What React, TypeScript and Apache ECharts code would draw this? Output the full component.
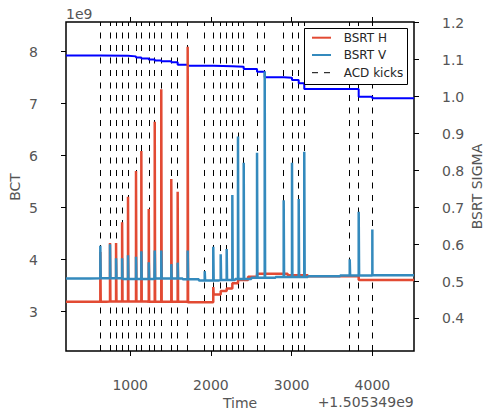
import React, { useEffect, useRef } from 'react';
import * as echarts from 'echarts';

// ---- data ----
const xTicks = [1000, 2000, 3000, 4000];
const bctTicks = [3, 4, 5, 6, 7, 8];
const sigmaTicks = [0.4, 0.5, 0.6, 0.7, 0.8, 0.9, 1.0, 1.1, 1.2];

// ACD kick times (s, offset from 1.505349e9)
const kickTimes = [630, 750, 825, 900, 973, 1072, 1138, 1230, 1304, 1385, 1509, 1588, 1712,
  1923, 2029, 2121, 2195, 2265, 2335, 2406, 2571, 2666, 2901, 3004, 3087, 3156, 3719, 3830, 3999];

// BSRT H peak at each kick (null = no visible spike)
const hPeaks = [0.58, 0.604, 0.604, 0.66, 0.729, 0.799, 0.853, 0.696, 0.932, 1.02, 0.777, 0.743, 1.135,
  null, 0.485, null, null, null, null, null, null, null, null, null, null, null, null, null, null];

// BSRT V peak at each kick
const vPeaks = [0.597, 0.601, 0.563, 0.563, 0.571, 0.567, 0.582, 0.552, 0.584, 0.584, 0.547, 0.551, 0.584,
  0.528, 0.594, 0.574, 0.588, 0.734, 0.892, 0.821, 0.848, 1.068, 0.72, 0.821, 0.723, 0.851, 0.56, 0.689, 0.641];

// baselines [time, sigma]
const hBaseline = [
  [205, 0.445], [700, 0.446], [1200, 0.445], [1700, 0.444], [2029, 0.465], [2121, 0.474], [2195, 0.481],
  [2265, 0.495], [2335, 0.504], [2460, 0.513], [2571, 0.521], [2950, 0.517], [3200, 0.514], [3830, 0.504],
  [4515, 0.503],
];
const vBaseline = [
  [205, 0.508], [500, 0.509], [900, 0.507], [1300, 0.508], [1650, 0.506], [1850, 0.503], [2100, 0.504],
  [2300, 0.507], [2500, 0.51], [2800, 0.512], [3200, 0.514], [3600, 0.516], [4000, 0.517], [4515, 0.517],
];

// BCT (charges, units of 1e9) [time, value]
const bctTimes = [205, 630, 973, 1072, 1138, 1230, 1304, 1385, 1509, 1588, 1712, 2029, 2265, 2406, 2571,
  2666, 2901, 3004, 3087, 3156, 3830, 3999, 4515];
const bctValues = [7.925, 7.922, 7.91, 7.89, 7.87, 7.85, 7.83, 7.815, 7.795, 7.75, 7.73, 7.72, 7.71, 7.667,
  7.615, 7.508, 7.5, 7.456, 7.392, 7.283, 7.135, 7.104, 7.104];

const SPIKE_W = 5;
const FONT = 'DejaVu Sans';
const RED = '#E24A33';
const BLUE = '#348ABD';

function baseAt(base: number[][], t: number): number {
  let v = base[0][1];
  for (const p of base) {
    if (p[0] <= t) v = p[1];
  }
  return v;
}

function buildSeries(base: number[][], peaks: (number | null)[]): number[][] {
  const pts: number[][] = base.map((p) => [p[0], p[1]]);
  kickTimes.forEach((t, i) => {
    const pk = peaks[i];
    if (pk == null) return;
    pts.push([t, pk]);
    pts.push([t + SPIKE_W, baseAt(base, t + SPIKE_W)]);
  });
  pts.sort((a, b) => a[0] - b[0]);
  return pts;
}

export default function App() {
  const ref = useRef<HTMLDivElement>(null);
  useEffect(() => {
    document.body.style.margin = '0';
    const chart = echarts.init(ref.current!, null, { renderer: 'svg' });
    const hData = buildSeries(hBaseline, hPeaks);
    const vData = buildSeries(vBaseline, vPeaks);
    const bctData = bctTimes.map((t, i) => [t, bctValues[i]]);
    const tickStyle = { color: '#000', width: 1 };
    const labelStyle = { color: '#555', fontSize: 14, fontFamily: FONT };
    const LZ = 100;

    chart.setOption({
      animation: false,
      textStyle: { fontFamily: FONT },
      grid: { left: 66, right: 70, top: 22, bottom: 60, show: true, borderColor: '#000', borderWidth: 1.5, backgroundColor: 'transparent' },
      xAxis: [
        {
          type: 'value', min: 205, max: 4515, position: 'bottom',
          axisLine: { show: false }, splitLine: { show: false },
          axisTick: { show: true, length: 5, customValues: xTicks, lineStyle: tickStyle },
          axisLabel: { ...labelStyle, margin: 27, customValues: xTicks, formatter: (v: number) => String(v) },
        },
        {
          type: 'value', min: 205, max: 4515, position: 'top',
          axisLine: { show: false }, splitLine: { show: false },
          axisTick: { show: true, length: 5, customValues: xTicks, lineStyle: tickStyle },
          axisLabel: { show: false },
        },
      ],
      yAxis: [
        {
          type: 'value', min: 2.245, max: 8.571, position: 'left',
          axisLine: { show: false }, splitLine: { show: false },
          axisTick: { show: true, length: 5, customValues: bctTicks, lineStyle: tickStyle },
          axisLabel: { ...labelStyle, margin: 28, customValues: bctTicks, formatter: (v: number) => String(v) },
        },
        {
          type: 'value', min: 0.312, max: 1.202, position: 'right',
          axisLine: { show: false }, splitLine: { show: false },
          axisTick: { show: true, length: 5, customValues: sigmaTicks, lineStyle: tickStyle },
          axisLabel: { ...labelStyle, margin: 28, customValues: sigmaTicks, formatter: (v: number) => v.toFixed(1) },
        },
      ],
      series: [
        {
          name: 'ACD kicks', type: 'line', xAxisIndex: 0, yAxisIndex: 0, data: [], z: 1,
          markLine: {
            silent: true, z: 1, symbol: ['none', 'none'], label: { show: false },
            lineStyle: { color: '#000', width: 1, type: [6, 6.5] },
            data: kickTimes.map((t) => ({ xAxis: t })),
          },
        },
        {
          name: 'BCT', type: 'line', xAxisIndex: 0, yAxisIndex: 0, data: bctData, step: 'end',
          showSymbol: false, symbol: 'none', z: 2,
          lineStyle: { color: '#0000FF', width: 2 },
        },
        {
          name: 'BSRT H', type: 'line', xAxisIndex: 0, yAxisIndex: 1, data: hData, step: 'end',
          showSymbol: false, symbol: 'none', z: 3,
          lineStyle: { color: RED, width: 2.5 },
        },
        {
          name: 'BSRT V', type: 'line', xAxisIndex: 0, yAxisIndex: 1, data: vData, step: 'end',
          showSymbol: false, symbol: 'none', z: 4,
          lineStyle: { color: BLUE, width: 2.5 },
        },
      ],
      graphic: [
        { type: 'text', x: 66, y: 14, style: { text: '1e9', fontSize: 14, fill: '#555', fontFamily: FONT, verticalAlign: 'middle' } },
        { type: 'text', x: 413.7, y: 402, style: { text: '+1.505349e9', fontSize: 14, fill: '#555', fontFamily: FONT, align: 'right', verticalAlign: 'middle' } },
        { type: 'text', x: 240, y: 403, style: { text: 'Time', fontSize: 14, fill: '#555', fontFamily: FONT, align: 'center', verticalAlign: 'middle' } },
        { type: 'text', x: 14.5, y: 187, rotation: Math.PI / 2, style: { text: 'BCT', fontSize: 14, fill: '#555', fontFamily: FONT, align: 'center', verticalAlign: 'middle' } },
        { type: 'text', x: 477, y: 186.5, rotation: Math.PI / 2, style: { text: 'BSRT SIGMA', fontSize: 14, fill: '#555', fontFamily: FONT, align: 'center', verticalAlign: 'middle' } },
        { type: 'rect', z: LZ, shape: { x: 304.5, y: 28.5, width: 103, height: 56 }, style: { fill: '#fff', stroke: '#000', lineWidth: 1 } },
        { type: 'line', z: LZ + 1, shape: { x1: 312, y1: 37.7, x2: 331, y2: 37.7 }, style: { stroke: RED, lineWidth: 2 } },
        { type: 'line', z: LZ + 1, shape: { x1: 312, y1: 55, x2: 331, y2: 55 }, style: { stroke: BLUE, lineWidth: 2 } },
        { type: 'line', z: LZ + 1, shape: { x1: 312, y1: 72.7, x2: 331, y2: 72.7 }, style: { stroke: '#000', lineWidth: 1, lineDash: [6, 6] } },
        { type: 'text', z: LZ + 1, x: 343.7, y: 37.7, style: { text: 'BSRT H', fontSize: 12, fill: '#262626', fontFamily: FONT, verticalAlign: 'middle' } },
        { type: 'text', z: LZ + 1, x: 343.7, y: 55, style: { text: 'BSRT V', fontSize: 12, fill: '#262626', fontFamily: FONT, verticalAlign: 'middle' } },
        { type: 'text', z: LZ + 1, x: 343.7, y: 72.7, style: { text: 'ACD kicks', fontSize: 12, fill: '#262626', fontFamily: FONT, verticalAlign: 'middle' } },
      ],
    });
    return () => chart.dispose();
  }, []);
  return <div ref={ref} style={{ width: 484, height: 411 }} />;
}
